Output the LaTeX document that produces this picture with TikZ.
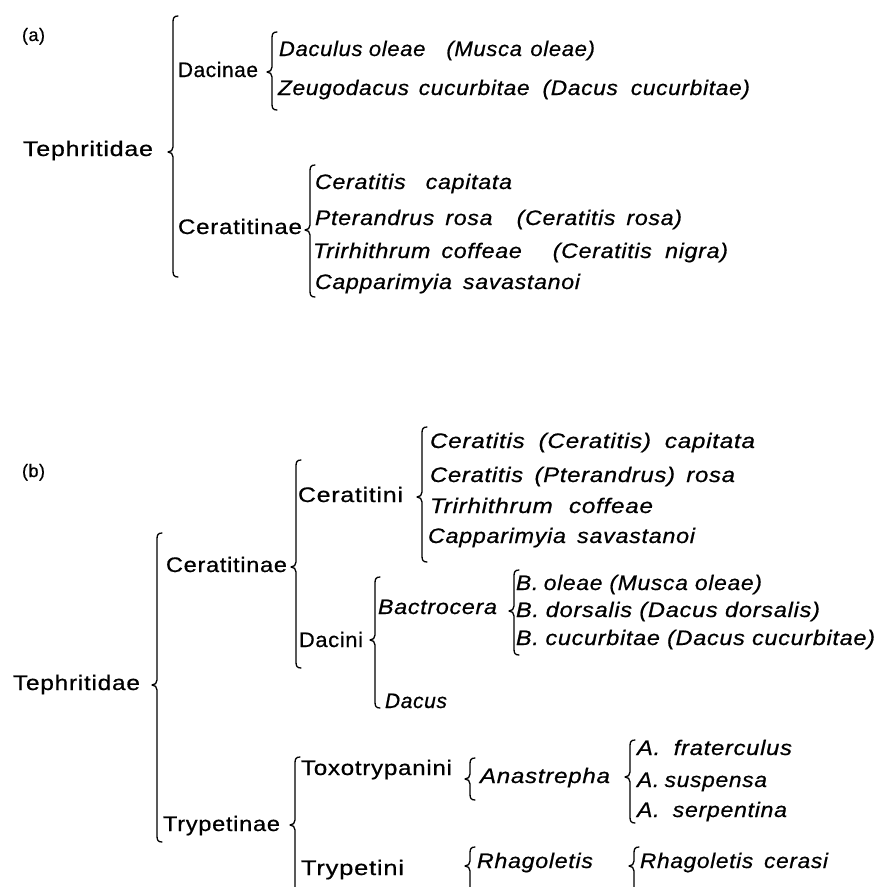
\documentclass[tikz,border=0pt]{standalone}
\usepackage{fontspec}
\usepackage{graphicx}
\setmainfont{Liberation Sans}[LetterSpace=3, FakeBold=0.6]
\newcommand\tw[2]{\resizebox{#1pt}{\height}{#2}}
\newcommand\g[1]{\hspace{#1pt}}
% brace: name, x, top, tip y, bottom
\newcommand\brc[5]{%
  \draw[bracestyle] (#2+5,#3) .. controls (#2+1,#3) and (#2,#3+2) .. (#2,#3+6)
    -- (#2,#4-5) .. controls (#2,#4-2) and (#2-2,#4) .. (#2-5,#4)
    .. controls (#2-2,#4) and (#2,#4+2) .. (#2,#4+5)
    -- (#2,#5-6) .. controls (#2,#5-2) and (#2+1,#5) .. (#2+5,#5);
  \coordinate (#1) at (#2-5,#4);}
\tikzset{
  lab/.style={anchor=base west, inner sep=0pt, outer sep=0pt, font=\fontsize{21}{25}\selectfont},
  ital/.style={lab, font=\fontsize{21}{25}\selectfont\itshape},
  small/.style={lab, font=\fontsize{18}{22}\selectfont},
  bracestyle/.style={line width=1.3pt, line cap=round, line join=round}
}
\begin{document}
\begin{tikzpicture}[x=1pt,y=-1pt]
\useasboundingbox (0,0) rectangle (878,887);
\clip (0,0) rectangle (878,887);
\fill[white] (0,0) rectangle (878,887);

% ---------------- (a) ----------------
\node[small] (alab) at (22,41) {(a)};
\node[lab] (ateph) at (23,156) {\tw{130}{Tephritidae}};
\brc{abr1}{173}{16}{152}{277}
\node[lab] (adacinae) at (178,77) {\tw{80}{Dacinae}};
\brc{abr2}{272}{32}{72}{110}
\node[ital] (ad1) at (279,56) {\tw{316}{Daculus\g{6}oleae\g{20}(Musca\g{8}oleae)}};
\node[ital] (ad2) at (278,95) {\tw{472}{Zeugodacus\g{9}cucurbitae\g{12}(Dacus\g{12}cucurbitae)}};
\node[lab] (acer) at (178,234) {\tw{124}{Ceratitinae}};
\brc{abr3}{310}{165}{230}{297}
\node[ital] (ac1) at (315,189) {\tw{197}{Ceratitis\g{18}capitata}};
\node[ital] (ac2) at (315,225) {\tw{367}{Pterandrus\g{10}rosa\g{22}(Ceratitis\g{10}rosa)}};
\node[ital] (ac3) at (313,258) {\tw{415}{Trirhithrum\g{10}coffeae\g{28}(Ceratitis\g{12}nigra)}};
\node[ital] (ac4) at (315,289) {\tw{265}{Capparimyia\g{10}savastanoi}};

% ---------------- (b) ----------------
\node[small] (blab) at (22,477) {(b)};
\node[lab] (bteph) at (13,690) {\tw{127}{Tephritidae}};
\brc{bbr1}{157}{533}{685}{842}
\node[lab] (bceratinae) at (166,572) {\tw{121}{Ceratitinae}};
\brc{bbr2}{296}{460}{567}{668}
\node[lab] (bceratini) at (298,502) {\tw{105}{Ceratitini}};
\brc{bbr3}{422}{427}{497}{562}
\node[ital] (bs1) at (430,448) {\tw{325}{Ceratitis\g{12}(Ceratitis)\g{12}capitata}};
\node[ital] (bs2) at (430,482) {\tw{305}{Ceratitis\g{10}(Pterandrus)\g{10}rosa}};
\node[ital] (bs3) at (430,513) {\tw{223}{Trirhithrum\g{14}coffeae}};
\node[ital] (bs4) at (428,543) {\tw{267}{Capparimyia\g{10}savastanoi}};
\node[lab] (bdacini) at (299,647) {\tw{64}{Dacini}};
\brc{bbr4}{375}{577}{640}{708}
\node[ital] (bbact) at (378,614) {\tw{119}{Bactrocera}};
\brc{bbr5}{514}{570}{611}{655}
\node[ital] (bbo) at (516,590) {\tw{246}{B.\g{5}oleae (Musca oleae)}};
\node[ital] (bbd) at (516,617) {\tw{304}{B.\g{6}dorsalis (Dacus dorsalis)}};
\node[ital] (bbc) at (516,645) {\tw{359}{B.\g{6}cucurbitae (Dacus cucurbitae)}};
\node[ital] (bdacus) at (385,708) {\tw{62}{Dacus}};
\node[lab] (btryp) at (163,831) {\tw{117}{Trypetinae}};
\brc{bbr6}{295}{757}{825}{893}
\node[lab] (btoxo) at (301,775) {\tw{151}{Toxotrypanini}};
\node[lab] (btrypetini) at (301,875) {\tw{103}{Trypetini}};
\brc{bbr7}{470}{758}{779}{800}
\node[ital] (banast) at (480,783) {\tw{130}{Anastrepha}};
\brc{bbr8}{630}{740}{777}{823}
\node[ital] (baf) at (637,755) {\tw{155}{A.\g{12}fraterculus}};
\node[ital] (bas) at (637,787) {\tw{130}{A.\g{5}suspensa}};
\node[ital] (basp) at (637,817) {\tw{150}{A.\g{12}serpentina}};
\brc{bbr9}{470}{847}{866}{893}
\node[ital] (brhag) at (477,868) {\tw{116}{Rhagoletis}};
\brc{bbr10}{634}{847}{866}{893}
\node[ital] (brc) at (640,868) {\tw{188}{Rhagoletis\g{10}cerasi}};
\end{tikzpicture}
\end{document}
